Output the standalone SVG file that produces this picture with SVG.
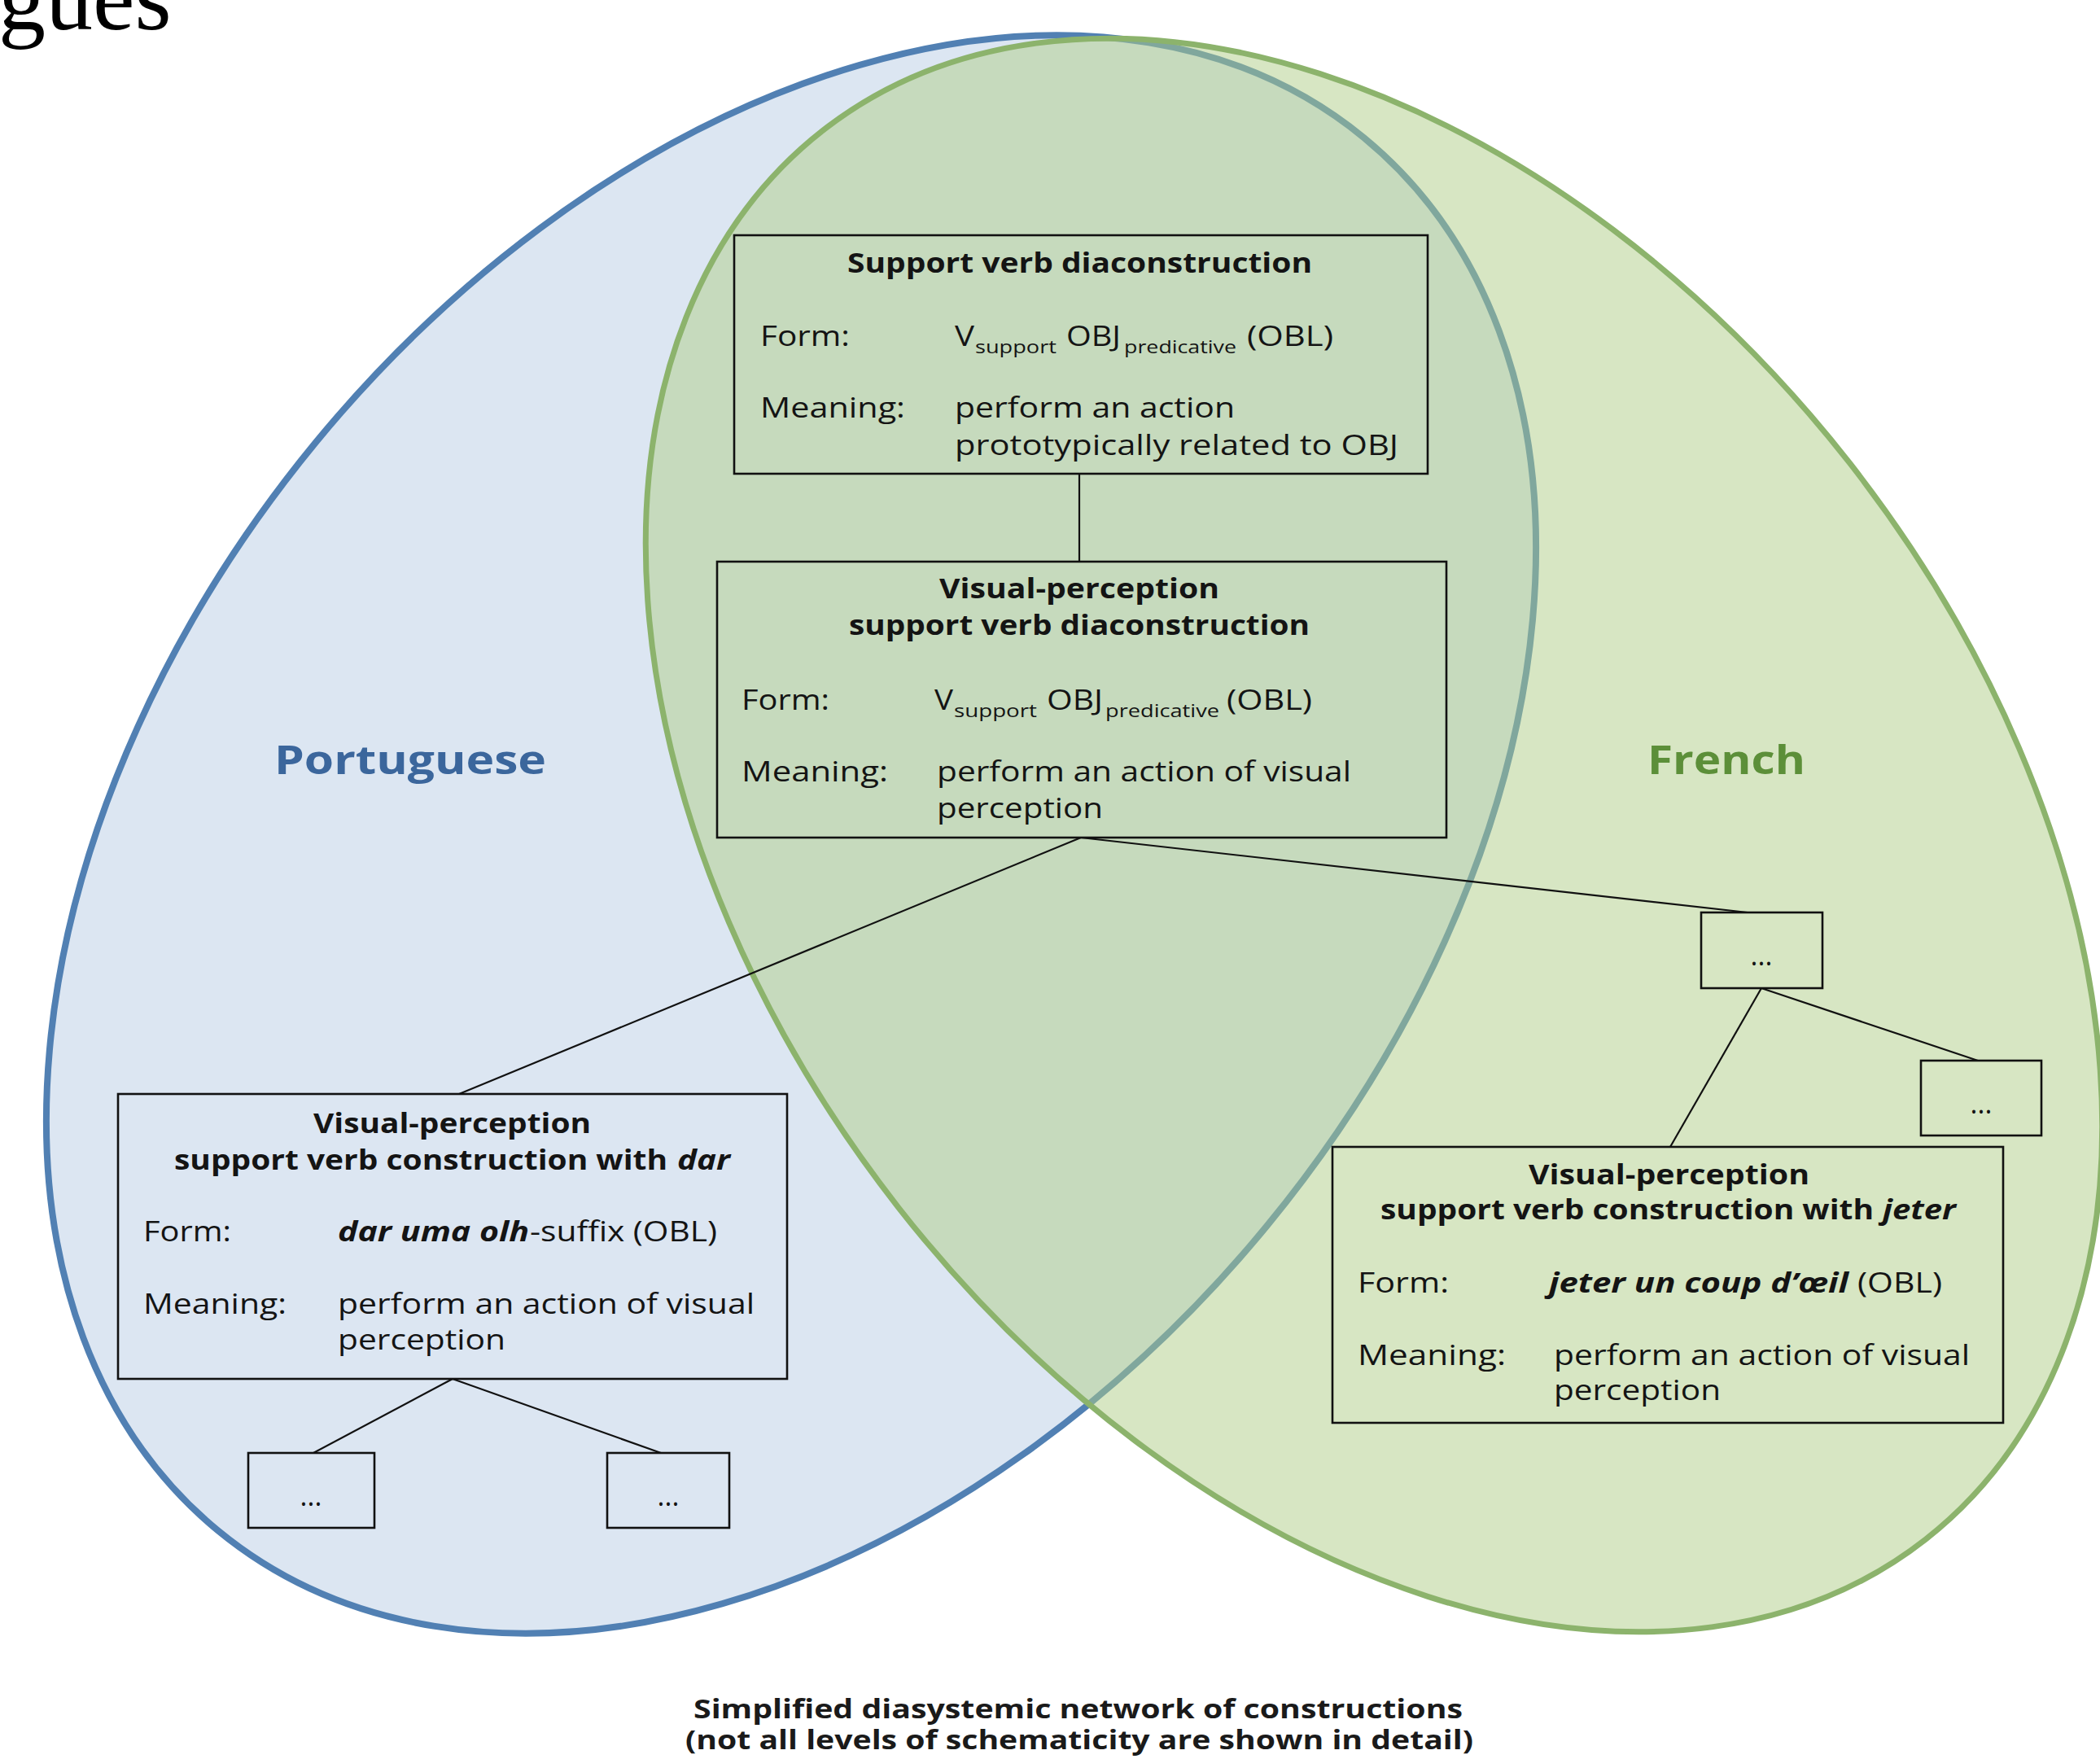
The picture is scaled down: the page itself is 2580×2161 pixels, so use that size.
<svg xmlns="http://www.w3.org/2000/svg" width="2580" height="2161" viewBox="0 0 2580 2161">
<style>
.t{font-family:"Open Sans","Liberation Sans",sans-serif;font-size:34px;fill:#141414}
.b{font-weight:bold}
.i{font-style:italic}
.sub{font-size:21px}
.box{fill:none;stroke:#111;stroke-width:2.6}
.ln{stroke:#111;stroke-width:2.2;fill:none}
.lang{font-family:"Open Sans","Liberation Sans",sans-serif;font-weight:bold;font-size:48px}
.cap{font-family:"Open Sans","Liberation Sans",sans-serif;font-weight:bold;font-size:32px;fill:#1a1a1a}
</style>
<rect width="2580" height="2161" fill="#ffffff"/>
<text x="-2" y="36" font-family="Liberation Serif, serif" font-size="116" fill="#000">gues</text>
<g id="sets">
<ellipse id="portuguese-set" cx="972" cy="1025" rx="1108" ry="757" transform="rotate(-50.56 972 1025)" fill="#dce6f2" stroke="#5180b3" stroke-width="8"/>
<ellipse id="french-set" cx="1688" cy="1026" rx="1099" ry="742" transform="rotate(51.93 1688 1026)" fill="#afcd87" fill-opacity="0.5" stroke="#8cb36c" stroke-width="7"/>
<text class="lang" x="337" y="951" fill="#3b669c" textLength="334" lengthAdjust="spacingAndGlyphs">Portuguese</text>
<text class="lang" x="2024" y="951" fill="#5c8f39" textLength="194" lengthAdjust="spacingAndGlyphs">French</text>
</g>
<g id="connectors">
<line class="ln" x1="1326" y1="582" x2="1326" y2="690"/>
<line class="ln" x1="1328" y1="1029" x2="564" y2="1344"/>
<line class="ln" x1="1328" y1="1029" x2="2147" y2="1121"/>
<line class="ln" x1="2164" y1="1214" x2="2430" y2="1303"/>
<line class="ln" x1="2164" y1="1214" x2="2052" y2="1409"/>
<line class="ln" x1="556" y1="1694" x2="385" y2="1785"/>
<line class="ln" x1="556" y1="1694" x2="812" y2="1785"/>
</g>
<g id="node-support-verb">
<rect class="box" x="902" y="289" width="852" height="293"/>
<text class="t b" x="1041" y="335" textLength="571" lengthAdjust="spacingAndGlyphs">Support verb diaconstruction</text>
<text class="t" x="934" y="425" textLength="110" lengthAdjust="spacingAndGlyphs">Form:</text>
<text class="t" x="1173" y="425" textLength="24" lengthAdjust="spacingAndGlyphs">V</text>
<text class="t sub" x="1198" y="434" textLength="100" lengthAdjust="spacingAndGlyphs">support</text>
<text class="t" x="1310" y="425" textLength="67" lengthAdjust="spacingAndGlyphs">OBJ</text>
<text class="t sub" x="1381" y="434" textLength="138" lengthAdjust="spacingAndGlyphs">predicative</text>
<text class="t" x="1532" y="425" textLength="106" lengthAdjust="spacingAndGlyphs">(OBL)</text>
<text class="t" x="934" y="513" textLength="178" lengthAdjust="spacingAndGlyphs">Meaning:</text>
<text class="t" x="1173" y="513" textLength="344" lengthAdjust="spacingAndGlyphs">perform an action</text>
<text class="t" x="1173" y="559" textLength="545" lengthAdjust="spacingAndGlyphs">prototypically related to OBJ</text>
</g>
<g id="node-visual-diaconstruction">
<rect class="box" x="881" y="690" width="896" height="339"/>
<text class="t b" x="1154" y="735" textLength="344" lengthAdjust="spacingAndGlyphs">Visual-perception</text>
<text class="t b" x="1043" y="780" textLength="566" lengthAdjust="spacingAndGlyphs">support verb diaconstruction</text>
<text class="t" x="911" y="872" textLength="108" lengthAdjust="spacingAndGlyphs">Form:</text>
<text class="t" x="1148" y="872" textLength="23" lengthAdjust="spacingAndGlyphs">V</text>
<text class="t sub" x="1172" y="881" textLength="102" lengthAdjust="spacingAndGlyphs">support</text>
<text class="t" x="1286" y="872" textLength="69" lengthAdjust="spacingAndGlyphs">OBJ</text>
<text class="t sub" x="1358" y="881" textLength="140" lengthAdjust="spacingAndGlyphs">predicative</text>
<text class="t" x="1507" y="872" textLength="105" lengthAdjust="spacingAndGlyphs">(OBL)</text>
<text class="t" x="911" y="960" textLength="180" lengthAdjust="spacingAndGlyphs">Meaning:</text>
<text class="t" x="1151" y="960" textLength="509" lengthAdjust="spacingAndGlyphs">perform an action of visual</text>
<text class="t" x="1151" y="1005" textLength="204" lengthAdjust="spacingAndGlyphs">perception</text>
</g>
<g id="node-dar">
<rect class="box" x="145" y="1344" width="822" height="350"/>
<text class="t b" x="385" y="1392" textLength="341" lengthAdjust="spacingAndGlyphs">Visual-perception</text>
<text class="t b" x="214" y="1437" textLength="606" lengthAdjust="spacingAndGlyphs">support verb construction with</text>
<text class="t b i" x="832" y="1437" textLength="65" lengthAdjust="spacingAndGlyphs">dar</text>
<text class="t" x="176" y="1525" textLength="108" lengthAdjust="spacingAndGlyphs">Form:</text>
<text class="t b i" x="415" y="1525" textLength="235" lengthAdjust="spacingAndGlyphs">dar uma olh</text>
<text class="t" x="651" y="1525" textLength="230" lengthAdjust="spacingAndGlyphs">-suffix (OBL)</text>
<text class="t" x="176" y="1614" textLength="176" lengthAdjust="spacingAndGlyphs">Meaning:</text>
<text class="t" x="415" y="1614" textLength="512" lengthAdjust="spacingAndGlyphs">perform an action of visual</text>
<text class="t" x="415" y="1658" textLength="206" lengthAdjust="spacingAndGlyphs">perception</text>
</g>
<g id="node-jeter">
<rect class="box" x="1637" y="1409" width="824" height="339"/>
<text class="t b" x="1878" y="1455" textLength="345" lengthAdjust="spacingAndGlyphs">Visual-perception</text>
<text class="t b" x="1696" y="1498" textLength="606" lengthAdjust="spacingAndGlyphs">support verb construction with</text>
<text class="t b i" x="2313" y="1498" textLength="90" lengthAdjust="spacingAndGlyphs">jeter</text>
<text class="t" x="1668" y="1588" textLength="112" lengthAdjust="spacingAndGlyphs">Form:</text>
<text class="t b i" x="1903" y="1588" textLength="368" lengthAdjust="spacingAndGlyphs">jeter un coup d’œil</text>
<text class="t" x="2282" y="1588" textLength="104" lengthAdjust="spacingAndGlyphs">(OBL)</text>
<text class="t" x="1668" y="1677" textLength="182" lengthAdjust="spacingAndGlyphs">Meaning:</text>
<text class="t" x="1909" y="1677" textLength="511" lengthAdjust="spacingAndGlyphs">perform an action of visual</text>
<text class="t" x="1909" y="1720" textLength="205" lengthAdjust="spacingAndGlyphs">perception</text>
</g>
<g id="node-dots-fr-1">
<rect class="box" x="2090" y="1121" width="149" height="93"/>
<text class="t" x="2164" y="1186" text-anchor="middle">...</text>
</g>
<g id="node-dots-fr-2">
<rect class="box" x="2360" y="1303" width="148" height="92"/>
<text class="t" x="2434" y="1368" text-anchor="middle">...</text>
</g>
<g id="node-dots-pt-1">
<rect class="box" x="305" y="1785" width="155" height="92"/>
<text class="t" x="382" y="1850" text-anchor="middle">...</text>
</g>
<g id="node-dots-pt-2">
<rect class="box" x="746" y="1785" width="150" height="92"/>
<text class="t" x="821" y="1850" text-anchor="middle">...</text>
</g>
<g id="caption">
<text class="cap" x="852" y="2111" textLength="945" lengthAdjust="spacingAndGlyphs">Simplified diasystemic network of constructions</text>
<text class="cap" x="842" y="2149" textLength="968" lengthAdjust="spacingAndGlyphs">(not all levels of schematicity are shown in detail)</text>
</g>
</svg>
